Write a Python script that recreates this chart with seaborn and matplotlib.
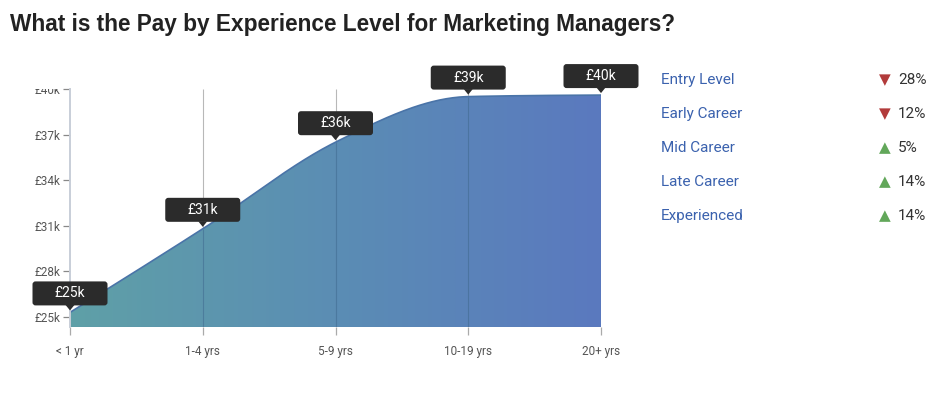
import numpy as np
import pandas as pd
import seaborn as sns
import matplotlib.pyplot as plt
from matplotlib import transforms as mtransforms
from matplotlib.patches import FancyBboxPatch, Polygon
from matplotlib.colors import LinearSegmentedColormap

categories = ["< 1 yr", "1-4 yrs", "5-9 yrs", "10-19 yrs", "20+ yrs"]
pay = [25300, 30800, 36500, 39500, 39600]
pay_labels = ["£25k", "£31k", "£36k", "£39k", "£40k"]
ytick_values = [25000, 28000, 31000, 34000, 37000, 40000]
ytick_labels = ["£25k", "£28k", "£31k", "£34k", "£37k", "£40k"]
levels = ["Entry Level", "Early Career", "Mid Career", "Late Career", "Experienced"]
changes = [-28, -12, 5, 14, 14]


def monotone_curve(xs, ys, n=60):
    # monotone cubic (same idea as d3.curveMonotoneX) for drawing the line
    xs = np.asarray(xs, float)
    ys = np.asarray(ys, float)
    h = np.diff(xs)
    s = np.diff(ys) / h
    m = np.zeros_like(ys)
    for k in range(1, len(ys) - 1):
        p = (s[k - 1] * h[k] + s[k] * h[k - 1]) / (h[k - 1] + h[k])
        m[k] = (np.sign(s[k - 1]) + np.sign(s[k])) * min(abs(s[k - 1]), abs(s[k]), 0.5 * abs(p))
    m[0] = (3 * s[0] - m[1]) / 2
    m[-1] = (3 * s[-1] - m[-2]) / 2
    out_x, out_y = [], []
    for k in range(len(h)):
        t = np.linspace(0, 1, n, endpoint=(k == len(h) - 1))
        h00 = 2 * t**3 - 3 * t**2 + 1
        h10 = t**3 - 2 * t**2 + t
        h01 = -2 * t**3 + 3 * t**2
        h11 = t**3 - t**2
        out_x.append(xs[k] + t * h[k])
        out_y.append(h00 * ys[k] + h10 * h[k] * m[k] + h01 * ys[k + 1] + h11 * h[k] * m[k + 1])
    return np.concatenate(out_x), np.concatenate(out_y)


def main():
    sns.set_style("white")
    plt.rcParams["font.family"] = ["Roboto", "DejaVu Sans"]

    fig = plt.figure(figsize=(9.51, 3.93), dpi=100)
    ax = fig.add_axes([70 / 951, 1 - 327 / 393, 531 / 951, 238 / 393])

    ylo, yhi = 24340, 40000
    xi = np.arange(len(categories))
    sx, sy = monotone_curve(xi, pay)
    curve = pd.DataFrame({"x": sx, "y": sy})

    # grid lines behind the area
    ax.vlines(xi[1:], ylo, yhi, color="#b8b8b8", lw=0.8, zorder=1)

    poly = ax.fill_between(curve["x"], ylo, curve["y"], color="none", lw=0, zorder=2)
    cmap = LinearSegmentedColormap.from_list("pay", ["#5fa0a7", "#5b8db4", "#5a79bf"])
    grad = np.linspace(0, 1, 256).reshape(1, -1)
    im = ax.imshow(grad, cmap=cmap, aspect="auto", extent=[0, len(categories) - 1, ylo, yhi],
                   zorder=2, interpolation="bilinear")
    im.set_clip_path(poly.get_paths()[0], ax.transData)

    ax.vlines(xi[1:], ylo, pay[1:], color="#3f6a8e", lw=0.8, alpha=0.55, zorder=3)
    sns.lineplot(data=curve, x="x", y="y", ax=ax, color="#4a74a8", lw=1.2, zorder=4)
    ax.vlines([xi[-1]], ylo, pay[-1], color="#5a78c0", lw=1.0, zorder=4)
    ax.hlines([ylo], 0, xi[-1], color="#5a86a8", lw=0.8, zorder=4)

    ax.set_xlim(0, len(categories) - 1)
    ax.set_ylim(ylo, yhi)
    ax.set_xticks(xi)
    ax.set_xticklabels(categories)
    ax.set_yticks(ytick_values)
    ax.set_yticklabels(ytick_labels)
    ax.set_xlabel("")
    ax.set_ylabel("")
    for side in ["top", "right", "bottom"]:
        ax.spines[side].set_visible(False)
    ax.spines["left"].set_color("#c8ced8")
    ax.spines["left"].set_linewidth(1.4)
    ax.spines["left"].set_zorder(5)
    ax.tick_params(axis="x", bottom=True, length=6, width=0.9, color="#aaaaaa", pad=7,
                   labelsize=8.5, labelcolor="#555555")
    ax.tick_params(axis="y", left=True, length=5, width=0.9, color="#888888", pad=2,
                   labelsize=8.5, labelcolor="#555555")

    # clip the y tick labels at the top of the plot area
    clip = mtransforms.TransformedBbox(mtransforms.Bbox([[-1, -1], [1, 1]]), ax.transAxes)
    for lab in ax.get_yticklabels():
        lab.set_clip_box(clip)
        lab.set_clip_on(True)

    # value callouts
    for x, y, lab in zip(xi, pay, pay_labels):
        tr = mtransforms.IdentityTransform() + mtransforms.ScaledTranslation(x, y, ax.transData)
        box = FancyBboxPatch((-37.5, 7), 75, 24, boxstyle="round,pad=0,rounding_size=3",
                             fc="#2b2b2b", ec="none", transform=tr, clip_on=False, zorder=6)
        ax.add_patch(box)
        tri = Polygon([(-4.5, 7.5), (4.5, 7.5), (0, 2)], closed=True, fc="#2b2b2b", ec="none",
                      transform=tr, clip_on=False, zorder=6)
        ax.add_patch(tri)
        ax.text(0, 19, lab, transform=tr, ha="center", va="center", color="white",
                fontsize=10, zorder=7, clip_on=False)

    fig.text(10 / 951, 1 - 25 / 393, "What is the Pay by Experience Level for Marketing Managers?",
             fontsize=16.25, fontweight="bold", color="#222222", va="center", ha="left",
             family=["Liberation Sans", "DejaVu Sans"])

    for i, (lev, ch) in enumerate(zip(levels, changes)):
        yy = 1 - (80 + 34 * i) / 393
        fig.text(661 / 951, yy, lev, fontsize=11, color="#3b62ae", va="center", ha="left")
        sym = "▼" if ch < 0 else "▲"
        col = "#b23b3b" if ch < 0 else "#62a75a"
        fig.text(885 / 951, yy, sym, fontsize=11, color=col, va="center", ha="center",
                 family=["DejaVu Sans"])
        fig.text(898 / 951, yy, f"{abs(ch)}%", fontsize=11, color="#333333", va="center", ha="left")

    fig.savefig("out.png", dpi=100)


if __name__ == '__main__':
    main()
